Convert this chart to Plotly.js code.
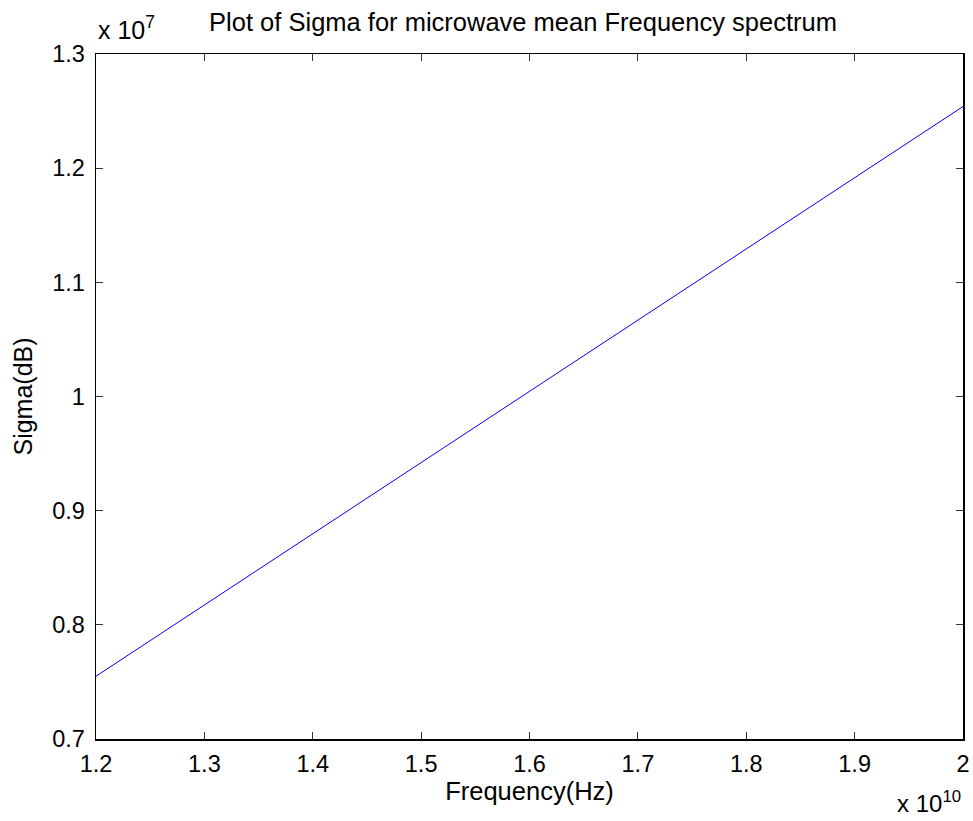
<!DOCTYPE html>
<html>
<head>
<meta charset="utf-8">
<script src="https://cdn.plot.ly/plotly-3.0.1.min.js"></script>
<style>html,body{margin:0;padding:0;background:#fff;}#chart{width:973px;height:821px;}</style>
</head>
<body>
<div id="chart"></div>
<script>
// Data (frequency in Hz, sigma values)
var frequency = [1.2e10, 1.3e10, 1.4e10, 1.5e10, 1.6e10, 1.7e10, 1.8e10, 1.9e10, 2.0e10];
var sigma = [7.55e6, 8.174e6, 8.798e6, 9.42e6, 10.045e6, 10.67e6, 11.29e6, 11.92e6, 12.54e6];

var xTickVals = [1.2e10, 1.3e10, 1.4e10, 1.5e10, 1.6e10, 1.7e10, 1.8e10, 1.9e10, 2.0e10];
var xTickText = ['1.2', '1.3', '1.4', '1.5', '1.6', '1.7', '1.8', '1.9', '2'];
var yTickVals = [7e6, 8e6, 9e6, 10e6, 11e6, 12e6, 13e6];
var yTickText = ['0.7', '0.8', '0.9', '1', '1.1', '1.2', '1.3'];

var FONT = 'Liberation Sans, Arial, sans-serif';

var trace = {
  x: frequency,
  y: sigma,
  type: 'scatter',
  mode: 'lines',
  line: {color: '#0000ff', width: 1},
  hoverinfo: 'x+y'
};

var layout = {
  width: 973,
  height: 821,
  paper_bgcolor: '#ffffff',
  plot_bgcolor: '#ffffff',
  showlegend: false,
  margin: {l: 96, r: 10, t: 54, b: 82, pad: 0},
  font: {family: FONT, color: '#000000', size: 23},
  title: {
    text: 'Plot of Sigma for microwave mean Frequency spectrum',
    font: {family: FONT, size: 25.5, color: '#000000'},
    x: 0.4925, xref: 'paper', xanchor: 'center',
    y: 0.973, yref: 'container', yanchor: 'middle'
  },
  xaxis: {
    range: [1.2e10, 2.0e10],
    tickmode: 'array',
    tickvals: xTickVals,
    ticktext: xTickText,
    ticks: 'inside',
    ticklen: 7,
    tickcolor: '#333333',
    tickwidth: 1,
    showline: true,
    linecolor: '#000000',
    linewidth: 1.5,
    mirror: 'ticks',
    showgrid: false,
    zeroline: false,
    tickfont: {family: FONT, size: 23.5, color: '#000000'},
    ticklabelstandoff: 3,
    title: {text: 'Frequency(Hz)', font: {family: FONT, size: 25.5, color: '#000000'}, standoff: 6}
  },
  yaxis: {
    range: [7e6, 13e6],
    tickmode: 'array',
    tickvals: yTickVals,
    ticktext: yTickText,
    ticks: 'inside',
    ticklen: 7,
    tickcolor: '#333333',
    tickwidth: 1,
    showline: true,
    linecolor: '#000000',
    linewidth: 1.5,
    mirror: 'ticks',
    showgrid: false,
    zeroline: false,
    tickfont: {family: FONT, size: 23.5, color: '#000000'},
    ticklabelstandoff: 5,
    title: {text: 'Sigma(dB)', font: {family: FONT, size: 25, color: '#000000'}, standoff: 12}
  },
  annotations: [
    {
      text: 'x 10<sup>7</sup>',
      xref: 'paper', yref: 'paper',
      x: 0, y: 1, xanchor: 'left', yanchor: 'bottom', yshift: 8,
      showarrow: false,
      font: {family: FONT, size: 25, color: '#000000'}
    },
    {
      text: 'x 10<sup>10</sup>',
      xref: 'paper', yref: 'paper',
      x: 1, y: 0, xanchor: 'right', yanchor: 'top', yshift: -46,
      showarrow: false,
      font: {family: FONT, size: 24, color: '#000000'}
    }
  ]
};

Plotly.newPlot('chart', [trace], layout, {displayModeBar: false, staticPlot: true});
</script>
</body>
</html>
